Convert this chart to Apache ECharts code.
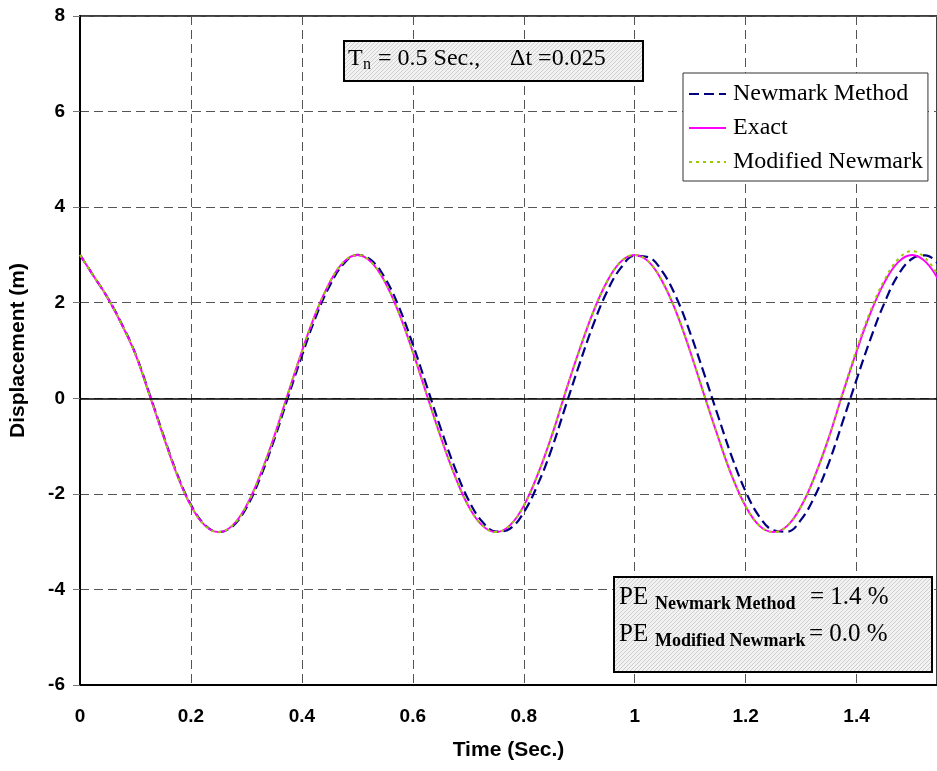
<!DOCTYPE html>
<html>
  <head>
    <meta charset="utf-8" />
    <title>Newmark vs Exact displacement</title>
    <script src="https://cdn.jsdelivr.net/npm/echarts@6/dist/echarts.min.js"></script>
  </head>
  <body style="margin:0;background:#fff;">
    <div id="chart" style="width:937px;height:771px;"></div>
    <script type="text/javascript">
      // time steps (dt = 0.025 s)
      var timeSec = [0, 0.025, 0.05, 0.075, 0.1, 0.125, 0.15, 0.175, 0.2, 0.225,
        0.25, 0.275, 0.3, 0.325, 0.35, 0.375, 0.4, 0.425, 0.45, 0.475,
        0.5, 0.525, 0.55, 0.575, 0.6, 0.625, 0.65, 0.675, 0.7, 0.725,
        0.75, 0.775, 0.8, 0.825, 0.85, 0.875, 0.9, 0.925, 0.95, 0.975,
        1.0, 1.025, 1.05, 1.075, 1.1, 1.125, 1.15, 1.175, 1.2, 1.225,
        1.25, 1.275, 1.3, 1.325, 1.35, 1.375, 1.4, 1.425, 1.45, 1.475,
        1.5, 1.525, 1.55];

      var newmarkDisp = [3.00, 2.55, 2.10, 1.56, 0.93, 0.10, -0.76, -1.58, -2.23, -2.65,
        -2.80, -2.68, -2.29, -1.66, -0.87, 0.02, 0.89, 1.70, 2.35, 2.81,
        3.00, 2.89, 2.51, 1.91, 1.13, 0.26, -0.62, -1.43, -2.12, -2.58,
        -2.79, -2.73, -2.39, -1.81, -1.07, -0.18, 0.70, 1.53, 2.23, 2.73,
        2.98, 2.95, 2.65, 2.11, 1.37, 0.52, -0.36, -1.22, -1.95, -2.48,
        -2.76, -2.79, -2.54, -2.04, -1.35, -0.49, 0.39, 1.24, 1.99, 2.58,
        2.92, 2.99, 2.77];

      var exactDisp = [3.00, 2.55, 2.10, 1.55, 0.92, 0.08, -0.78, -1.60, -2.25, -2.66,
        -2.80, -2.66, -2.25, -1.60, -0.80, 0.10, 0.98, 1.78, 2.42, 2.85,
        3.00, 2.85, 2.43, 1.78, 0.97, 0.08, -0.80, -1.60, -2.25, -2.66,
        -2.80, -2.66, -2.25, -1.60, -0.80, 0.12, 1.00, 1.80, 2.44, 2.86,
        3.00, 2.86, 2.44, 1.80, 0.98, 0.08, -0.80, -1.62, -2.26, -2.67,
        -2.80, -2.67, -2.26, -1.62, -0.82, 0.10, 0.98, 1.78, 2.42, 2.85,
        3.00, 2.85, 2.43];

      var modifiedDisp = [3.00, 2.55, 2.10, 1.55, 0.92, 0.08, -0.78, -1.60, -2.25, -2.66,
        -2.80, -2.66, -2.25, -1.60, -0.80, 0.10, 0.98, 1.78, 2.42, 2.85,
        3.00, 2.85, 2.43, 1.78, 0.97, 0.08, -0.80, -1.60, -2.25, -2.66,
        -2.80, -2.66, -2.25, -1.60, -0.80, 0.12, 1.00, 1.80, 2.44, 2.86,
        3.00, 2.86, 2.44, 1.80, 0.98, 0.08, -0.80, -1.62, -2.26, -2.67,
        -2.80, -2.67, -2.26, -1.62, -0.82, 0.12, 1.02, 1.83, 2.47, 2.91,
        3.08, 2.92, 2.52];

      function pairs(ys) {
        return timeSec.map(function (t, i) { return [t, ys[i]]; });
      }

      // light crosshatch fill for the text boxes
      function hatch() {
        var c = document.createElement('canvas');
        c.width = 4; c.height = 4;
        var g = c.getContext('2d');
        g.fillStyle = '#f2f2f2';
        g.fillRect(0, 0, 4, 4);
        g.fillStyle = '#cfcfcf';
        g.fillRect(0, 0, 1, 1); g.fillRect(2, 2, 1, 1);
        g.fillRect(1, 3, 1, 1); g.fillRect(3, 1, 1, 1);
        return { image: c, repeat: 'repeat' };
      }

      var serif = 'Liberation Serif';
      var sans = 'Liberation Sans';
      var gridDash = { color: '#555', width: 1, type: [9, 5] };

      var option = {
        animation: false,
        backgroundColor: '#fff',
        grid: { left: 80, right: 0, top: 16, bottom: 86, show: true,
          borderColor: '#000', borderWidth: 1.5, backgroundColor: 'transparent' },
        legend: {
          orient: 'vertical', left: 683, top: 73,
          padding: [9, 5, 7, 5], itemGap: 10,
          itemWidth: 37, itemHeight: 22,
          itemStyle: { opacity: 0 },
          backgroundColor: '#fff', borderColor: '#333', borderWidth: 1,
          textStyle: { fontFamily: serif, fontSize: 24, color: '#000', padding: [0, 0, 0, 2] },
          data: ['Newmark Method', 'Exact', 'Modified Newmark']
        },
        xAxis: {
          type: 'value', min: 0, max: 1.545, interval: 0.2,
          name: 'Time (Sec.)', nameLocation: 'middle', nameGap: 55,
          nameTextStyle: { fontFamily: sans, fontWeight: 'bold', fontSize: 21, color: '#000' },
          axisLine: { onZero: false, lineStyle: { color: '#000', width: 2 } },
          axisTick: { show: false },
          axisLabel: { margin: 22, fontFamily: sans, fontWeight: 'bold', fontSize: 19, color: '#000',
            showMaxLabel: false },
          splitLine: { show: true, lineStyle: gridDash }
        },
        yAxis: {
          type: 'value', min: -6, max: 8, interval: 2,
          name: 'Displacement (m)', nameLocation: 'middle', nameGap: 51,
          nameTextStyle: { fontFamily: sans, fontWeight: 'bold', fontSize: 21, color: '#000' },
          axisLine: { show: true, lineStyle: { color: '#000', width: 2 } },
          axisTick: { show: true, length: 7, lineStyle: { color: '#777' } },
          axisLabel: { margin: 15, fontFamily: sans, fontWeight: 'bold', fontSize: 19, color: '#000' },
          splitLine: { show: true, lineStyle: gridDash }
        },
        series: [
          {
            name: 'Newmark Method', type: 'line', data: pairs(newmarkDisp),
            symbol: 'none', smooth: 0.4,
            lineStyle: { color: '#000080', width: 2.2, type: [10, 5] },
            itemStyle: { color: '#000080' },
            markLine: {
              silent: true, symbol: ['none', 'none'], label: { show: false },
              lineStyle: { color: '#000', type: 'solid', width: 1.5 },
              data: [{ yAxis: 0 }]
            }
          },
          {
            name: 'Exact', type: 'line', data: pairs(exactDisp),
            symbol: 'none', smooth: 0.4,
            lineStyle: { color: '#ff00ff', width: 2 },
            itemStyle: { color: '#ff00ff' }
          },
          {
            name: 'Modified Newmark', type: 'line', data: pairs(modifiedDisp),
            symbol: 'none', smooth: 0.4,
            lineStyle: { color: '#99cc00', width: 2, type: [3, 4] },
            itemStyle: { color: '#99cc00' }
          }
        ],
        graphic: [
          // period / time step box
          { type: 'rect', shape: { x: 344, y: 41, width: 299, height: 40 },
            style: { fill: hatch(), stroke: '#000', lineWidth: 2 }, z: 100 },
          { type: 'text', x: 348, y: 59, z: 101,
            style: { text: 'T', font: '24px "Liberation Serif"', fill: '#000', verticalAlign: 'middle' } },
          { type: 'text', x: 363, y: 65, z: 101,
            style: { text: 'n', font: '16px "Liberation Serif"', fill: '#000', verticalAlign: 'middle' } },
          { type: 'text', x: 372, y: 59, z: 101,
            style: { text: ' = 0.5 Sec.,', font: '24px "Liberation Serif"', fill: '#000', verticalAlign: 'middle' } },
          { type: 'text', x: 510, y: 59, z: 101,
            style: { text: '\u0394t =0.025', font: '24px "Liberation Serif"', fill: '#000', verticalAlign: 'middle' } },

          // percentage error box
          { type: 'rect', shape: { x: 614, y: 577, width: 318, height: 95 },
            style: { fill: hatch(), stroke: '#000', lineWidth: 2 }, z: 100 },
          { type: 'text', x: 619, y: 597, z: 101,
            style: { text: 'PE', font: '25px "Liberation Serif"', fill: '#000', verticalAlign: 'middle' } },
          { type: 'text', x: 655, y: 604, z: 101,
            style: { text: 'Newmark Method', font: 'bold 18px "Liberation Serif"', fill: '#000', verticalAlign: 'middle' } },
          { type: 'text', x: 810, y: 597, z: 101,
            style: { text: '= 1.4 %', font: '25px "Liberation Serif"', fill: '#000', verticalAlign: 'middle' } },
          { type: 'text', x: 619, y: 634, z: 101,
            style: { text: 'PE', font: '25px "Liberation Serif"', fill: '#000', verticalAlign: 'middle' } },
          { type: 'text', x: 655, y: 641, z: 101,
            style: { text: 'Modified Newmark', font: 'bold 18px "Liberation Serif"', fill: '#000', verticalAlign: 'middle' } },
          { type: 'text', x: 809, y: 634, z: 101,
            style: { text: '= 0.0 %', font: '25px "Liberation Serif"', fill: '#000', verticalAlign: 'middle' } }
        ]
      };

      var chart = echarts.init(document.getElementById('chart'));
      chart.setOption(option);
    </script>
  </body>
</html>
